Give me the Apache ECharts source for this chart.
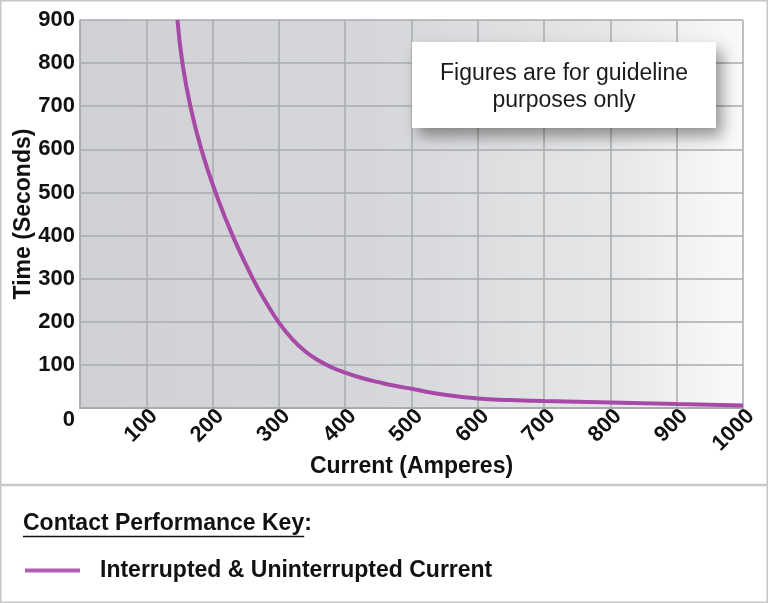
<!DOCTYPE html>
<html>
<head>
<meta charset="utf-8">
<script src="https://cdn.jsdelivr.net/npm/echarts@6/dist/echarts.min.js"></script>
<style>
html,body{margin:0;padding:0;background:#fff;}
#c{width:768px;height:603px;}
</style>
</head>
<body>
<div id="c"></div>
<script>
// Data (current in amperes, time in seconds)
var currentA = [147, 154.5, 166.5, 183, 204.5, 231, 262.5, 281, 300, 320, 340, 360, 380, 400, 425, 450, 475, 500, 550, 600, 650, 700, 800, 900, 1000];
var timeS    = [900, 800, 700, 600, 500, 397, 295, 244, 198, 160, 131, 110, 94, 82, 69.5, 60, 51.5, 44.5, 30.5, 22, 18.5, 16, 13, 9.5, 6];
var xTicks = [0, 100, 200, 300, 400, 500, 600, 700, 800, 900, 1000];
var yTicks = [0, 100, 200, 300, 400, 500, 600, 700, 800, 900];
var seriesName = 'Interrupted & Uninterrupted Current';
var keyTitle = 'Contact Performance Key';
var noteLines = ['Figures are for guideline', 'purposes only'];

var FONT = '"Liberation Sans", Arial, sans-serif';
var points = currentA.map(function (c, i) { return [c, timeS[i]]; });

function textWidth(t, font) {
  var cv = document.createElement('canvas').getContext('2d');
  cv.font = font;
  return cv.measureText(t).width;
}
var keyW = textWidth(keyTitle, 'bold 23px ' + FONT);

var chart = echarts.init(document.getElementById('c'), null, {renderer: 'canvas'});
var gridColor = '#a9abae';
chart.setOption({
  animation: false,
  backgroundColor: '#ffffff',
  grid: {
    left: 80, right: 25, top: 20, bottom: 195,
    outerBoundsMode: 'none',
    containLabel: false,
    show: true,
    borderWidth: 0,
    backgroundColor: {
      type: 'linear', x: 0, y: 0, x2: 1, y2: 0,
      colorStops: [
        {offset: 0, color: '#d0d1d4'},
        {offset: 0.45, color: '#d6d7da'},
        {offset: 0.8, color: '#e6e7e8'},
        {offset: 1, color: '#fafafa'}
      ]
    }
  },
  xAxis: {
    type: 'value', min: xTicks[0], max: xTicks[xTicks.length - 1], interval: 100,
    name: 'Current (Amperes)', nameLocation: 'middle', nameGap: 47, nameMoveOverlap: false,
    nameTextStyle: {fontFamily: FONT, fontWeight: 'bold', fontSize: 23, color: '#111'},
    axisLine: {show: true, lineStyle: {color: gridColor, width: 2}},
    axisTick: {show: false},
    splitLine: {show: true, showMinLine: true, showMaxLine: true, lineStyle: {color: gridColor, width: 1.5}},
    axisLabel: {
      rotate: 45, margin: -3, verticalAlign: 'top', lineHeight: 22,
      fontFamily: FONT, fontWeight: 'bold', fontSize: 22, color: '#111',
      formatter: function (v) { return v === 0 ? '' : String(v); }
    }
  },
  yAxis: {
    type: 'value', min: yTicks[0], max: yTicks[yTicks.length - 1], interval: 100,
    name: 'Time (Seconds)', nameLocation: 'middle', nameGap: 45, nameMoveOverlap: false,
    nameTextStyle: {fontFamily: FONT, fontWeight: 'bold', fontSize: 23, color: '#111'},
    axisLine: {show: true, lineStyle: {color: gridColor, width: 1.5}},
    axisTick: {show: false},
    splitLine: {show: true, showMinLine: true, showMaxLine: true, lineStyle: {color: gridColor, width: 1.5}},
    axisLabel: {
      margin: 5, fontFamily: FONT, fontWeight: 'bold', fontSize: 22, color: '#111',
      formatter: function (v) { return v === 0 ? '{z|0}' : String(v); },
      rich: {z: {fontFamily: FONT, fontWeight: 'bold', fontSize: 22, color: '#111', padding: [24, 0, 0, 0]}}
    }
  },
  legend: {
    left: 20, top: 554,
    itemWidth: 55, itemHeight: 4,
    icon: 'rect',
    textStyle: {fontFamily: FONT, fontWeight: 'bold', fontSize: 23, color: '#111', padding: [0, 0, 0, 15]},
    data: [seriesName]
  },
  series: [{
    name: seriesName,
    type: 'line',
    data: points,
    smooth: 0.5,
    showSymbol: false,
    symbol: 'none',
    clip: true,
    lineStyle: {color: '#a74aa7', width: 4},
    itemStyle: {color: '#b25cb2'}
  }],
  graphic: [
    {type: 'rect', silent: true, z: 100,
      shape: {x: 0.75, y: 0.75, width: 766.5, height: 601.5},
      style: {fill: 'none', stroke: '#c5c6c8', lineWidth: 1.5}},
    {type: 'line', silent: true, z: 100,
      shape: {x1: 0, y1: 485, x2: 768, y2: 485},
      style: {stroke: '#c8c9cb', lineWidth: 2.5}},
    {type: 'rect', silent: true, z: 50,
      shape: {x: 412, y: 42, width: 304, height: 86},
      style: {fill: '#ffffff', shadowBlur: 14, shadowOffsetX: 6, shadowOffsetY: 8, shadowColor: 'rgba(0,0,0,0.4)'}},
    {type: 'text', silent: true, z: 51,
      x: 564, y: 87,
      style: {text: noteLines.join('\n'), fill: '#1a1a1a', font: '23px ' + FONT, align: 'center', verticalAlign: 'middle', lineHeight: 27}},
    {type: 'text', silent: true, z: 51,
      x: 23, y: 524,
      style: {text: keyTitle, fill: '#111', font: 'bold 23px ' + FONT, verticalAlign: 'middle'}},
    {type: 'text', silent: true, z: 51,
      x: 23 + keyW, y: 524,
      style: {text: ':', fill: '#111', font: 'bold 23px ' + FONT, verticalAlign: 'middle'}},
    {type: 'line', silent: true, z: 51,
      shape: {x1: 23, y1: 536.5, x2: 23 + keyW, y2: 536.5},
      style: {stroke: '#111', lineWidth: 1.5}}
  ]
});
</script>
</body>
</html>
